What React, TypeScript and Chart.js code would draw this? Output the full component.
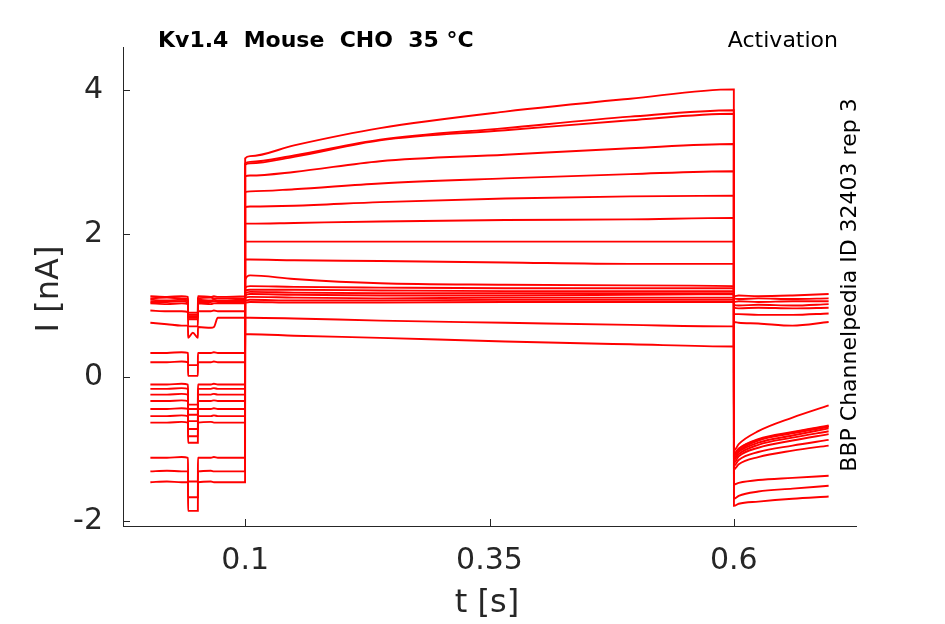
import { useEffect, useRef } from "react"
import { Chart, registerables } from "chart.js"

Chart.register(...registerables)

// sample times (s) for the three parts of each sweep
const holdTimes = [0.003, 0.02, 0.035, 0.0415, 0.0416, 0.0465, 0.0516, 0.0517, 0.065, 0.068, 0.072, 0.0999]
const stepTimes = [0.1, 0.105, 0.15, 0.238, 0.366, 0.494, 0.6]
const tailTimes = [0.6001, 0.605, 0.625, 0.66, 0.697]

// currents (nA), one row per sweep
const holdCurrents = [
  [-1.46, -1.45, -1.46, -1.46, -1.86, -1.86, -1.86, -1.46, -1.45, -1.46, -1.46, -1.46],
  [-1.31, -1.3, -1.31, -1.31, -1.67, -1.67, -1.67, -1.31, -1.3, -1.31, -1.31, -1.31],
  [-1.12, -1.12, -1.11, -1.12, -1.45, -1.45, -1.45, -1.12, -1.12, -1.11, -1.12, -1.12],
  [-0.63, -0.63, -0.62, -0.63, -0.91, -0.91, -0.91, -0.63, -0.62, -0.63, -0.63, -0.63],
  [-0.54, -0.54, -0.53, -0.54, -0.82, -0.82, -0.82, -0.54, -0.54, -0.53, -0.54, -0.54],
  [-0.44, -0.44, -0.43, -0.44, -0.72, -0.72, -0.72, -0.44, -0.44, -0.43, -0.44, -0.44],
  [-0.33, -0.33, -0.32, -0.33, -0.61, -0.61, -0.61, -0.33, -0.33, -0.32, -0.33, -0.33],
  [-0.24, -0.24, -0.23, -0.24, -0.52, -0.52, -0.52, -0.24, -0.24, -0.23, -0.24, -0.24],
  [-0.16, -0.16, -0.15, -0.16, -0.44, -0.44, -0.44, -0.16, -0.16, -0.15, -0.16, -0.16],
  [-0.1, -0.1, -0.09, -0.1, -0.38, -0.38, -0.38, -0.1, -0.1, -0.09, -0.1, -0.1],
  [0.21, 0.21, 0.22, 0.21, 0.02, 0.02, 0.02, 0.21, 0.21, 0.22, 0.21, 0.21],
  [0.34, 0.34, 0.35, 0.34, 0.17, 0.17, 0.17, 0.34, 0.34, 0.35, 0.34, 0.34],
  [1.13, 1.12, 1.13, 1.12, 0.9, 0.9, 0.9, 1.13, 1.12, 1.13, 1.12, 1.13],
  [1.1, 1.11, 1.1, 1.09, 0.87, 0.87, 0.87, 1.1, 1.11, 1.1, 1.1, 1.1],
  [1.08, 1.07, 1.08, 1.07, 0.85, 0.85, 0.85, 1.08, 1.07, 1.08, 1.07, 1.08],
  [1.05, 1.05, 1.06, 1.04, 0.83, 0.83, 0.83, 1.05, 1.05, 1.06, 1.05, 1.05],
  [1.03, 1.02, 1.03, 1.02, 0.81, 0.81, 0.81, 1.03, 1.02, 1.03, 1.03, 1.03],
  [0.93, 0.92, 0.92, 0.91, 0.71, 0.71, 0.71, 0.92, 0.92, 0.93, 0.92, 0.92],
  [0.76, 0.74, 0.72, 0.72, 0.55, 0.62, 0.55, 0.7, 0.69, 0.7, 0.83, 0.83],
]

const stepCurrents = [
  [3.05, 3.08, 3.23, 3.47, 3.7, 3.88, 4.01],
  [2.98, 3.0, 3.09, 3.31, 3.47, 3.63, 3.72],
  [2.96, 2.98, 3.07, 3.3, 3.44, 3.58, 3.67],
  [2.8, 2.81, 2.86, 3.01, 3.1, 3.19, 3.25],
  [2.58, 2.59, 2.62, 2.7, 2.77, 2.83, 2.87],
  [2.37, 2.38, 2.39, 2.44, 2.49, 2.52, 2.53],
  [2.14, 2.14, 2.15, 2.17, 2.19, 2.2, 2.22],
  [1.89, 1.89, 1.89, 1.89, 1.89, 1.89, 1.89],
  [1.64, 1.64, 1.63, 1.62, 1.6, 1.58, 1.58],
  [1.36, 1.42, 1.37, 1.31, 1.29, 1.28, 1.27],
  [1.25, 1.27, 1.26, 1.25, 1.24, 1.24, 1.24],
  [1.21, 1.22, 1.22, 1.21, 1.2, 1.2, 1.2],
  [1.14, 1.16, 1.15, 1.14, 1.14, 1.15, 1.16],
  [1.11, 1.12, 1.11, 1.1, 1.11, 1.11, 1.11],
  [1.07, 1.08, 1.07, 1.07, 1.08, 1.08, 1.08],
  [1.04, 1.05, 1.04, 1.04, 1.05, 1.05, 1.05],
  [1.17, 1.19, 1.18, 1.17, 1.17, 1.17, 1.17],
  [0.6, 0.6, 0.58, 0.55, 0.5, 0.46, 0.43],
  [0.83, 0.83, 0.82, 0.79, 0.76, 0.73, 0.71],
]

const tailCurrents = [
  [-1.79, -1.76, -1.73, -1.69, -1.66],
  [-1.69, -1.65, -1.59, -1.55, -1.51],
  [-1.49, -1.47, -1.43, -1.4, -1.37],
  [-1.02, -0.93, -0.75, -0.56, -0.39],
  [-1.06, -0.99, -0.86, -0.76, -0.67],
  [-1.09, -1.02, -0.88, -0.78, -0.69],
  [-1.12, -1.04, -0.91, -0.81, -0.71],
  [-1.15, -1.07, -0.94, -0.84, -0.75],
  [-1.19, -1.1, -0.98, -0.88, -0.79],
  [-1.23, -1.15, -1.04, -0.95, -0.87],
  [-1.28, -1.21, -1.11, -1.02, -0.95],
  [-1.08, -1.0, -0.87, -0.77, -0.68],
  [1.13, 1.14, 1.13, 1.14, 1.16],
  [1.1, 1.09, 1.1, 1.09, 1.1],
  [1.05, 1.06, 1.05, 1.06, 1.06],
  [1.01, 1.0, 1.01, 1.0, 1.02],
  [0.97, 0.96, 0.97, 0.96, 0.97],
  [0.88, 0.88, 0.87, 0.87, 0.89],
  [0.77, 0.76, 0.75, 0.72, 0.77],
]

const xTicks = [0.1, 0.35, 0.6]
const xTickLabels = ["0.1", "0.35", "0.6"]
const yTicks = [-2, 0, 2, 4]
const yTickLabels = ["-2", "0", "2", "4"]

const times = [...holdTimes, ...stepTimes, ...tailTimes]
const axisColor = "#262626"
const font = '"DejaVu Sans", sans-serif'

function sweepPoints(i: number) {
  const values = [...holdCurrents[i], ...stepCurrents[i], ...tailCurrents[i]]
  return values.map((y, k) => ({ x: times[k], y }))
}

const decorations = {
  id: "decorations",
  afterDraw(chart: Chart) {
    const { ctx, chartArea, scales } = chart
    ctx.save()

    // inward tick marks
    ctx.strokeStyle = axisColor
    ctx.lineWidth = 1
    ctx.beginPath()
    yTicks.forEach((v) => {
      const y = Math.round(scales.y.getPixelForValue(v)) + 0.5
      ctx.moveTo(chartArea.left, y)
      ctx.lineTo(chartArea.left + 7, y)
    })
    xTicks.forEach((v) => {
      const x = Math.round(scales.x.getPixelForValue(v)) + 0.5
      ctx.moveTo(x, chartArea.bottom)
      ctx.lineTo(x, chartArea.bottom - 7)
    })
    ctx.stroke()

    ctx.fillStyle = "#000"
    ctx.textBaseline = "alphabetic"
    ctx.font = `bold 22px ${font}`
    ctx.textAlign = "left"
    ctx.fillText("Kv1.4  Mouse  CHO  35 °C", 158, 47)
    ctx.font = `22px ${font}`
    ctx.textAlign = "right"
    ctx.fillText("Activation", 838, 47)

    ctx.save()
    ctx.translate(856, 285)
    ctx.rotate(-Math.PI / 2)
    ctx.textAlign = "center"
    ctx.fillText("BBP Channelpedia ID 32403 rep 3", 0, 0)
    ctx.restore()

    ctx.fillStyle = axisColor
    ctx.font = `32px ${font}`
    ctx.textAlign = "center"
    ctx.fillText("t [s]", 487, 612)
    ctx.save()
    ctx.translate(58, 289)
    ctx.rotate(-Math.PI / 2)
    ctx.fillText("I [nA]", 0, 0)
    ctx.restore()

    ctx.restore()
  },
}

export default function App() {
  const chartRef = useRef<HTMLCanvasElement>(null)
  const chartInstance = useRef<Chart | null>(null)

  useEffect(() => {
    if (!chartRef.current) return
    if (chartInstance.current) chartInstance.current.destroy()

    const ctx = chartRef.current.getContext("2d")
    if (!ctx) return

    chartInstance.current = new Chart(ctx, {
      type: "line",
      data: {
        datasets: holdCurrents.map((_, i) => ({
          label: `sweep ${i + 1}`,
          data: sweepPoints(i),
          borderColor: "#ff0000",
          borderWidth: 1.9,
          pointRadius: 0,
          cubicInterpolationMode: "monotone",
          fill: false,
        })),
      },
      options: {
        animation: false,
        responsive: false,
        layout: { padding: { top: 47, right: 89, left: 0, bottom: 0 } },
        plugins: {
          legend: { display: false },
          tooltip: { enabled: false },
        },
        scales: {
          x: {
            type: "linear",
            min: -0.025,
            max: 0.725,
            grid: { display: false, drawTicks: false },
            border: { color: axisColor, width: 1 },
            afterBuildTicks: (scale: any) => {
              scale.ticks = xTicks.map((v) => ({ value: v }))
            },
            afterFit: (scale: any) => {
              scale.height = 98
            },
            ticks: {
              autoSkip: false,
              maxRotation: 0,
              padding: 17,
              color: axisColor,
              font: { family: "DejaVu Sans", size: 30 },
              callback: (v: any) => xTickLabels[xTicks.indexOf(v)],
            },
          },
          y: {
            type: "linear",
            min: -2.07,
            max: 4.6,
            grid: { display: false, drawTicks: false },
            border: { color: axisColor, width: 1 },
            afterBuildTicks: (scale: any) => {
              scale.ticks = yTicks.map((v) => ({ value: v }))
            },
            afterFit: (scale: any) => {
              scale.width = 123
            },
            ticks: {
              autoSkip: false,
              padding: 20,
              color: axisColor,
              font: { family: "DejaVu Sans", size: 30 },
              callback: (v: any) => yTickLabels[yTicks.indexOf(v)],
            },
          },
        },
      },
      plugins: [decorations],
    })

    return () => {
      if (chartInstance.current) {
        chartInstance.current.destroy()
        chartInstance.current = null
      }
    }
  }, [])

  return (
    <div style={{ position: "fixed", left: 0, top: 0, width: 945, height: 624, background: "#fff" }}>
      <canvas ref={chartRef} width={945} height={624} style={{ display: "block" }} />
    </div>
  )
}
